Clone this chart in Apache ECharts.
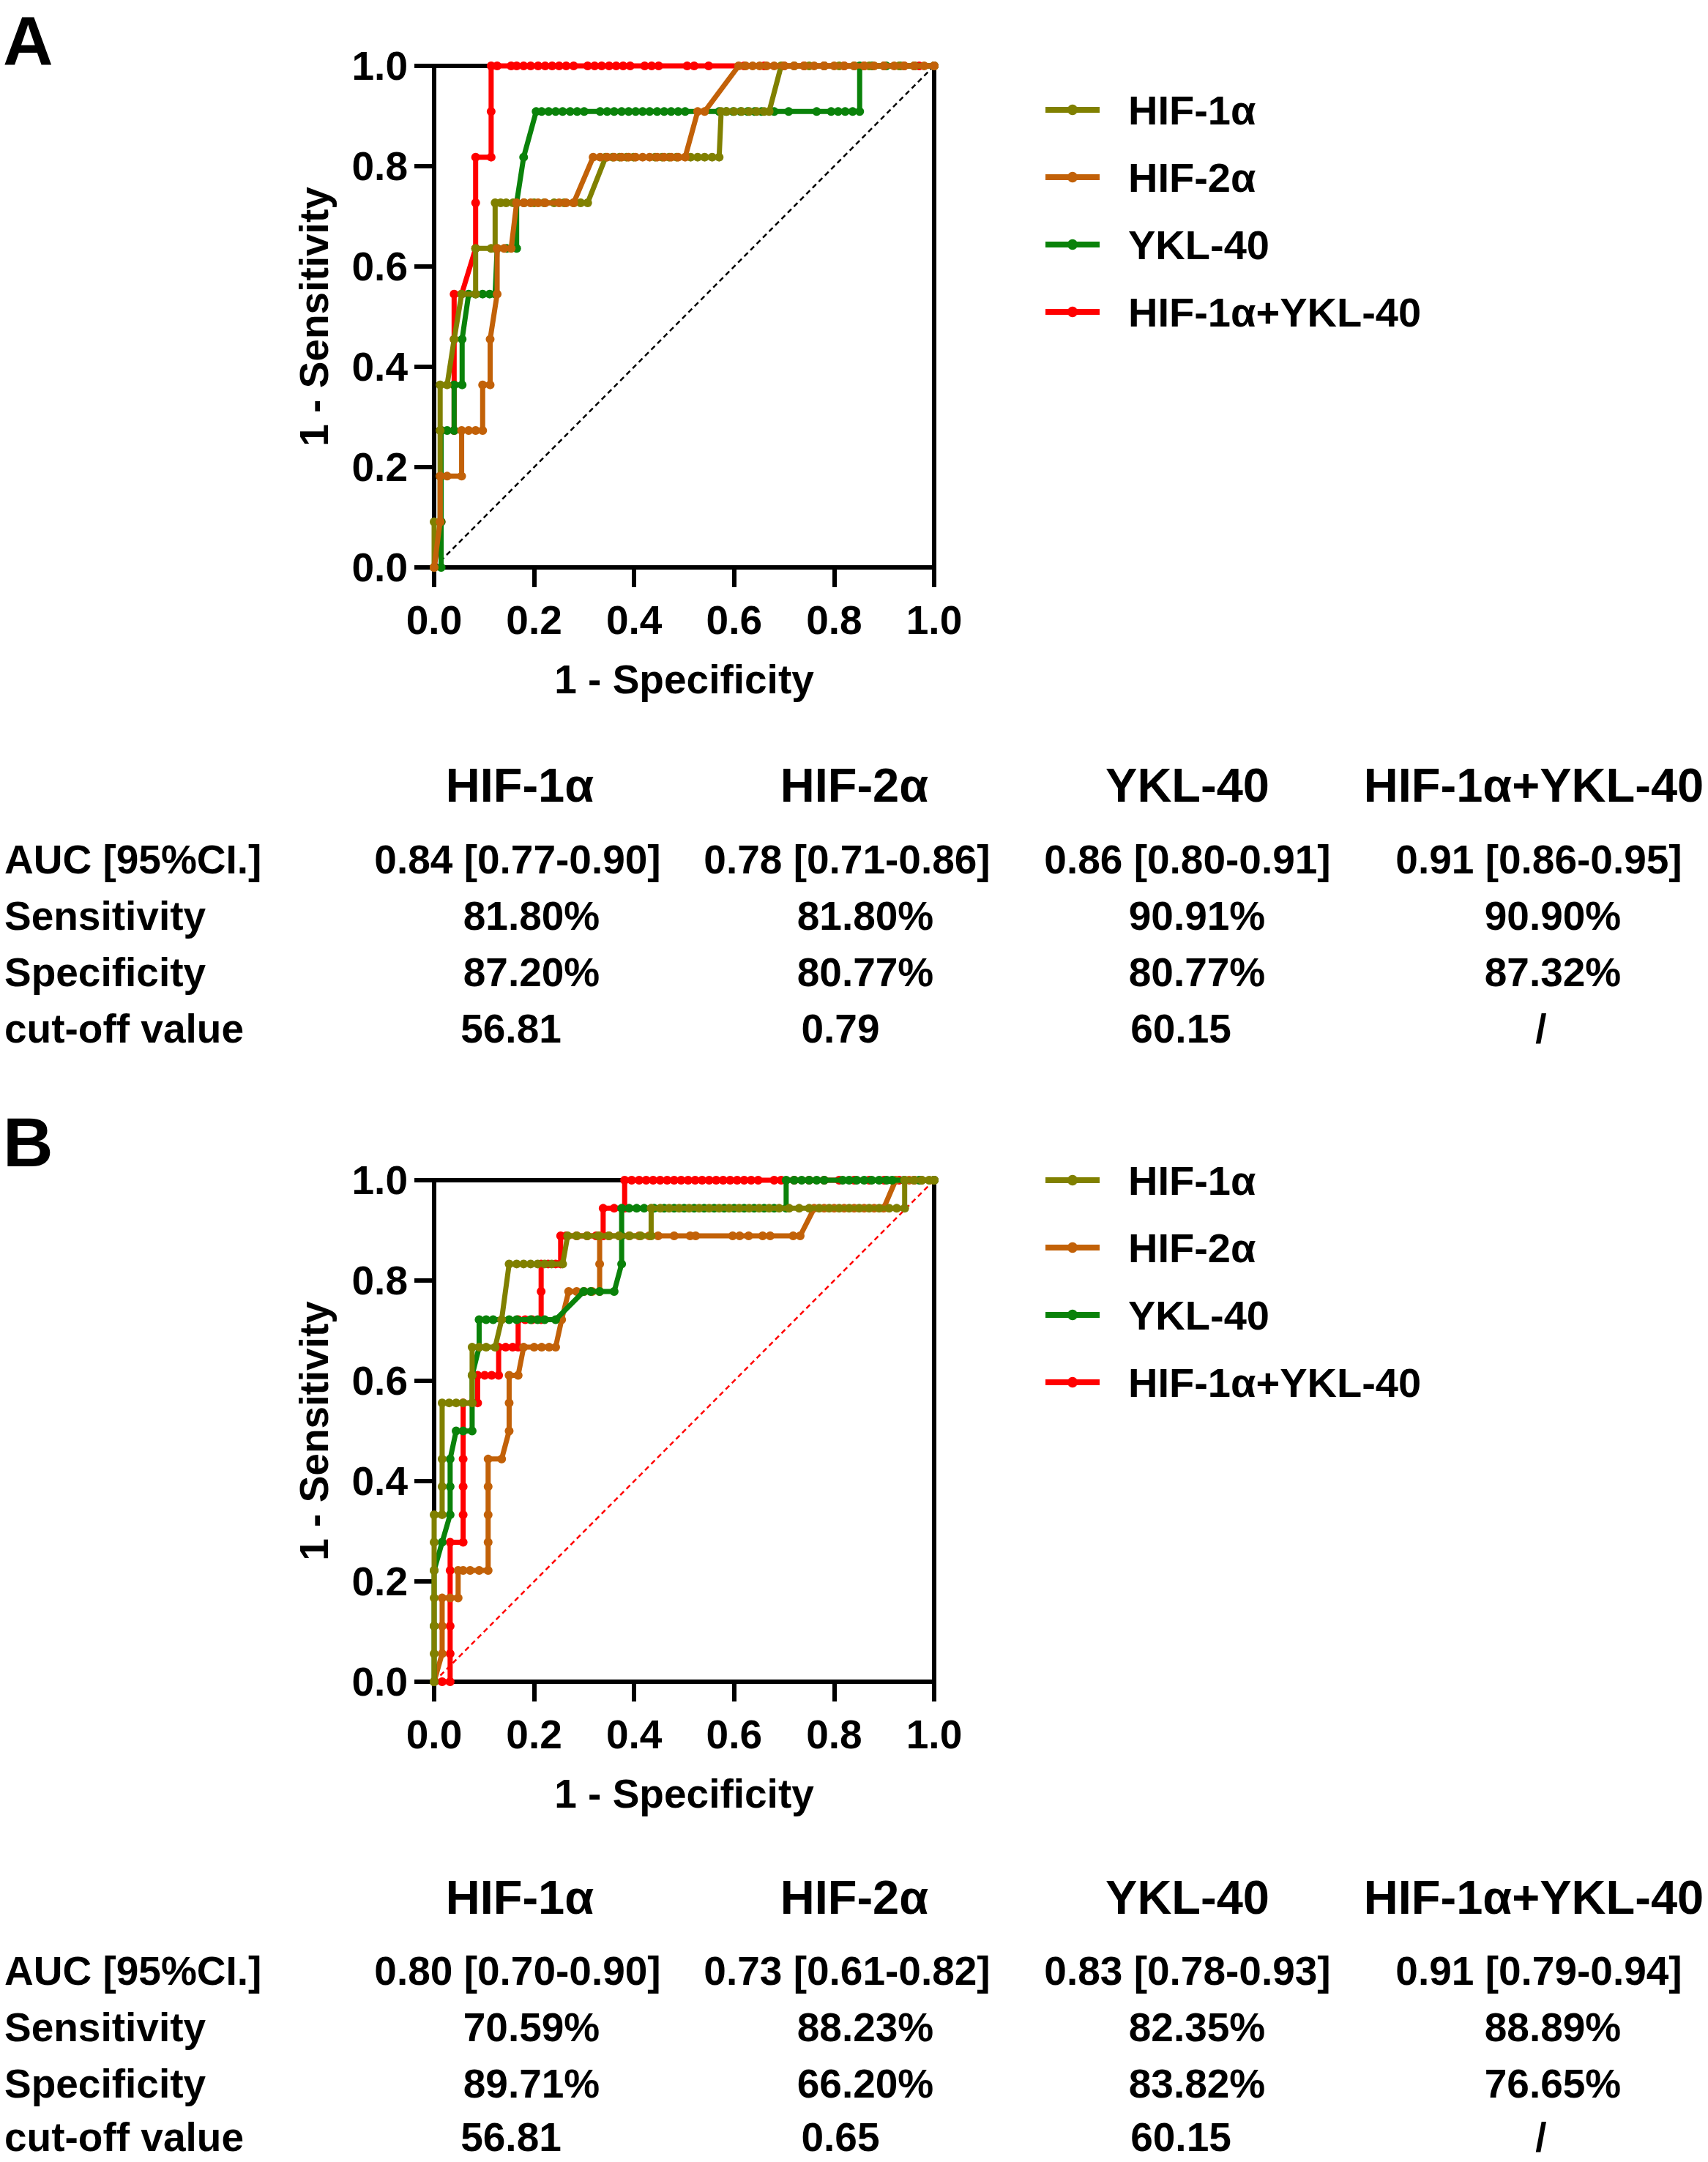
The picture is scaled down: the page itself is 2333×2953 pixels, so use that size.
<!DOCTYPE html>
<html><head><meta charset="utf-8">
<script src="https://cdn.jsdelivr.net/npm/echarts@6/dist/echarts.min.js"></script>
<style>html,body{margin:0;padding:0;background:#fff}#c{width:2333px;height:2953px}</style>
</head><body><div id="c"></div>
<script>
// ---------------- DATA ----------------
const seriesNames = ['HIF-1\u03b1', 'HIF-2\u03b1', 'YKL-40', 'HIF-1\u03b1+YKL-40'];
const xTicks = [0, 0.2, 0.4, 0.6, 0.8, 1.0];

// Panel A ROC curves [1-specificity, 1-sensitivity]
const aHif1 = [[0,0],[0,0.091],[0.012,0.091],[0.012,0.182],[0.012,0.273],[0.012,0.364],[0.026,0.364],[0.040,0.455],[0.055,0.545],[0.083,0.545],[0.083,0.636],[0.114,0.636],[0.122,0.636],[0.122,0.727],[0.133,0.727],[0.144,0.727],[0.158,0.727],[0.180,0.727],[0.200,0.727],[0.220,0.727],[0.240,0.727],[0.260,0.727],[0.279,0.727],[0.293,0.727],[0.307,0.727],[0.343,0.818],[0.357,0.818],[0.371,0.818],[0.385,0.818],[0.399,0.818],[0.442,0.818],[0.456,0.818],[0.470,0.818],[0.485,0.818],[0.513,0.818],[0.527,0.818],[0.541,0.818],[0.556,0.818],[0.570,0.818],[0.574,0.909],[0.585,0.909],[0.600,0.909],[0.615,0.909],[0.630,0.909],[0.645,0.909],[0.660,0.909],[0.670,0.909],[0.694,1],[0.720,1],[0.750,1],[0.780,1],[0.810,1],[0.840,1],[0.870,1],[0.900,1],[0.930,1],[0.960,1],[1,1]];
const aHif2 = [[0,0],[0.012,0.091],[0.012,0.182],[0.026,0.182],[0.055,0.182],[0.055,0.273],[0.069,0.273],[0.083,0.273],[0.097,0.273],[0.097,0.364],[0.112,0.364],[0.112,0.455],[0.126,0.545],[0.126,0.636],[0.140,0.636],[0.154,0.636],[0.165,0.727],[0.179,0.727],[0.193,0.727],[0.208,0.727],[0.222,0.727],[0.250,0.727],[0.264,0.727],[0.279,0.727],[0.318,0.818],[0.332,0.818],[0.346,0.818],[0.360,0.818],[0.375,0.818],[0.389,0.818],[0.403,0.818],[0.417,0.818],[0.431,0.818],[0.446,0.818],[0.460,0.818],[0.474,0.818],[0.488,0.818],[0.502,0.818],[0.527,0.909],[0.541,0.909],[0.609,1],[0.623,1],[0.637,1],[0.651,1],[0.665,1],[0.680,1],[0.700,1],[0.720,1],[0.740,1],[0.760,1],[0.780,1],[0.800,1],[0.820,1],[0.840,1],[0.860,1],[0.880,1],[0.900,1],[0.920,1],[0.940,1],[0.960,1],[0.980,1],[1,1]];
const aYkl = [[0,0],[0.014,0],[0.014,0.091],[0.014,0.182],[0.014,0.273],[0.026,0.273],[0.040,0.273],[0.040,0.364],[0.056,0.364],[0.056,0.455],[0.069,0.545],[0.083,0.545],[0.097,0.545],[0.111,0.545],[0.122,0.545],[0.126,0.636],[0.145,0.636],[0.165,0.636],[0.165,0.727],[0.179,0.818],[0.204,0.909],[0.215,0.909],[0.229,0.909],[0.243,0.909],[0.257,0.909],[0.272,0.909],[0.286,0.909],[0.300,0.909],[0.332,0.909],[0.346,0.909],[0.360,0.909],[0.375,0.909],[0.389,0.909],[0.403,0.909],[0.417,0.909],[0.431,0.909],[0.446,0.909],[0.460,0.909],[0.474,0.909],[0.488,0.909],[0.502,0.909],[0.570,0.909],[0.584,0.909],[0.598,0.909],[0.613,0.909],[0.627,0.909],[0.641,0.909],[0.655,0.909],[0.680,0.909],[0.709,0.909],[0.765,0.909],[0.794,0.909],[0.808,0.909],[0.822,0.909],[0.837,0.909],[0.851,0.909],[0.851,1],[0.876,1],[0.904,1],[0.932,1],[0.961,1],[1,1]];
const aCombo = [[0,0],[0.014,0.091],[0.014,0.182],[0.014,0.273],[0.040,0.273],[0.040,0.364],[0.040,0.455],[0.040,0.545],[0.055,0.545],[0.083,0.636],[0.083,0.727],[0.083,0.818],[0.114,0.818],[0.114,0.909],[0.114,1],[0.126,1],[0.154,1],[0.165,1],[0.179,1],[0.193,1],[0.208,1],[0.222,1],[0.236,1],[0.250,1],[0.264,1],[0.279,1],[0.307,1],[0.321,1],[0.335,1],[0.350,1],[0.364,1],[0.378,1],[0.392,1],[0.421,1],[0.435,1],[0.449,1],[0.506,1],[0.520,1],[0.549,1],[0.620,1],[0.660,1],[0.700,1],[0.740,1],[0.780,1],[0.820,1],[0.860,1],[0.900,1],[0.940,1],[0.970,1],[1,1]];
const aDiag = [[0,0],[1,1]];

// Panel B ROC curves
const bHif1 = [[0,0],[0,0.056],[0,0.111],[0,0.167],[0,0.222],[0,0.278],[0,0.333],[0.016,0.333],[0.016,0.389],[0.016,0.444],[0.016,0.556],[0.030,0.556],[0.044,0.556],[0.058,0.556],[0.076,0.556],[0.076,0.611],[0.076,0.667],[0.090,0.667],[0.104,0.667],[0.122,0.667],[0.135,0.722],[0.150,0.833],[0.165,0.833],[0.179,0.833],[0.193,0.833],[0.207,0.833],[0.221,0.833],[0.235,0.833],[0.257,0.833],[0.267,0.889],[0.285,0.889],[0.306,0.889],[0.328,0.889],[0.349,0.889],[0.370,0.889],[0.391,0.889],[0.413,0.889],[0.434,0.889],[0.434,0.944],[0.452,0.944],[0.470,0.944],[0.490,0.944],[0.510,0.944],[0.530,0.944],[0.550,0.944],[0.570,0.944],[0.590,0.944],[0.610,0.944],[0.630,0.944],[0.650,0.944],[0.670,0.944],[0.690,0.944],[0.710,0.944],[0.730,0.944],[0.750,0.944],[0.770,0.944],[0.790,0.944],[0.810,0.944],[0.830,0.944],[0.850,0.944],[0.870,0.944],[0.890,0.944],[0.910,0.944],[0.925,0.944],[0.941,0.944],[0.941,1],[0.960,1],[0.975,1],[0.990,1],[1,1]];
const bHif2 = [[0,0],[0.016,0.056],[0.016,0.111],[0.016,0.167],[0.032,0.167],[0.048,0.167],[0.048,0.222],[0.058,0.222],[0.072,0.222],[0.090,0.222],[0.108,0.222],[0.108,0.278],[0.108,0.333],[0.108,0.389],[0.108,0.444],[0.135,0.444],[0.150,0.500],[0.150,0.556],[0.150,0.611],[0.168,0.611],[0.179,0.667],[0.200,0.667],[0.215,0.667],[0.230,0.667],[0.243,0.667],[0.255,0.722],[0.269,0.778],[0.285,0.778],[0.300,0.778],[0.316,0.778],[0.331,0.778],[0.331,0.833],[0.331,0.889],[0.350,0.889],[0.370,0.889],[0.390,0.889],[0.410,0.889],[0.430,0.889],[0.448,0.889],[0.480,0.889],[0.512,0.889],[0.523,0.889],[0.597,0.889],[0.611,0.889],[0.629,0.889],[0.657,0.889],[0.672,0.889],[0.718,0.889],[0.732,0.889],[0.760,0.944],[0.780,0.944],[0.800,0.944],[0.820,0.944],[0.840,0.944],[0.860,0.944],[0.880,0.944],[0.899,0.944],[0.923,1],[0.950,1],[0.975,1],[1,1]];
const bYkl = [[0,0],[0,0.111],[0,0.222],[0.016,0.278],[0.032,0.333],[0.032,0.389],[0.032,0.444],[0.044,0.500],[0.058,0.500],[0.076,0.500],[0.076,0.556],[0.076,0.611],[0.090,0.667],[0.090,0.722],[0.104,0.722],[0.118,0.722],[0.150,0.722],[0.165,0.722],[0.193,0.722],[0.207,0.722],[0.221,0.722],[0.243,0.722],[0.299,0.778],[0.313,0.778],[0.331,0.778],[0.360,0.778],[0.375,0.833],[0.375,0.889],[0.375,0.944],[0.390,0.944],[0.405,0.944],[0.420,0.944],[0.440,0.944],[0.460,0.944],[0.480,0.944],[0.500,0.944],[0.520,0.944],[0.540,0.944],[0.560,0.944],[0.580,0.944],[0.600,0.944],[0.620,0.944],[0.640,0.944],[0.660,0.944],[0.680,0.944],[0.704,0.944],[0.704,1],[0.720,1],[0.735,1],[0.750,1],[0.765,1],[0.780,1],[0.817,1],[0.830,1],[0.845,1],[0.860,1],[0.875,1],[0.890,1],[0.905,1],[0.916,1],[0.940,1],[0.970,1],[1,1]];
const bCombo = [[0,0],[0.016,0],[0.032,0],[0.032,0.056],[0.032,0.111],[0.032,0.167],[0.032,0.222],[0.032,0.278],[0.058,0.278],[0.058,0.333],[0.058,0.389],[0.058,0.444],[0.058,0.500],[0.058,0.556],[0.087,0.556],[0.087,0.611],[0.101,0.611],[0.115,0.611],[0.129,0.611],[0.129,0.667],[0.143,0.667],[0.157,0.667],[0.168,0.667],[0.168,0.722],[0.182,0.722],[0.196,0.722],[0.214,0.722],[0.214,0.778],[0.214,0.833],[0.228,0.833],[0.243,0.833],[0.253,0.833],[0.253,0.889],[0.264,0.889],[0.285,0.889],[0.306,0.889],[0.324,0.889],[0.338,0.889],[0.338,0.944],[0.360,0.944],[0.381,0.944],[0.381,1],[0.395,1],[0.410,1],[0.424,1],[0.438,1],[0.452,1],[0.466,1],[0.480,1],[0.494,1],[0.508,1],[0.522,1],[0.536,1],[0.550,1],[0.564,1],[0.578,1],[0.592,1],[0.606,1],[0.620,1],[0.634,1],[0.648,1],[0.680,1],[0.694,1],[0.720,1],[0.750,1],[0.780,1],[0.810,1],[0.840,1],[0.870,1],[0.900,1],[0.930,1],[0.960,1],[1,1]];
const bDiag = [[0,0],[1,1]];

// Tables
const tableHeaders = ['HIF-1\u03b1', 'HIF-2\u03b1', 'YKL-40', 'HIF-1\u03b1+YKL-40'];
const rowLabels = ['AUC [95%CI.]', 'Sensitivity', 'Specificity', 'cut-off value'];
const tableA_hif1 = ['0.84 [0.77-0.90]', '81.80%', '87.20%', '56.81'];
const tableA_hif2 = ['0.78 [0.71-0.86]', '81.80%', '80.77%', '0.79'];
const tableA_ykl  = ['0.86 [0.80-0.91]', '90.91%', '80.77%', '60.15'];
const tableA_combo = ['0.91 [0.86-0.95]', '90.90%', '87.32%', '/'];
const tableB_hif1 = ['0.80 [0.70-0.90]', '70.59%', '89.71%', '56.81'];
const tableB_hif2 = ['0.73 [0.61-0.82]', '88.23%', '66.20%', '0.65'];
const tableB_ykl  = ['0.83 [0.78-0.93]', '82.35%', '83.82%', '60.15'];
const tableB_combo = ['0.91 [0.79-0.94]', '88.89%', '76.65%', '/'];

// ---------------- STYLE / LAYOUT ----------------
const FONT = 'Liberation Sans, Arial, Helvetica, sans-serif';
const colors = {'HIF-1\u03b1':'#808000','HIF-2\u03b1':'#C26108','YKL-40':'#0A820A','HIF-1\u03b1+YKL-40':'#FF0000'};
const panels = [
  {top: 90, label: 'A', labelTop: 8, legendTop: 115, tableY: 1072, rowOffsets: [102, 179, 256, 333], diagColor: '#000',
   curves: {'HIF-1\u03b1': aHif1, 'HIF-2\u03b1': aHif2, 'YKL-40': aYkl, 'HIF-1\u03b1+YKL-40': aCombo},
   order: ['HIF-1\u03b1+YKL-40','YKL-40','HIF-1\u03b1','HIF-2\u03b1'], diag: aDiag,
   table: [tableA_hif1, tableA_hif2, tableA_ykl, tableA_combo]},
  {top: 1612, label: 'B', labelTop: 1512, legendTop: 1577, tableY: 2591, rowOffsets: [101, 178, 255, 328], diagColor: '#FF0000',
   curves: {'HIF-1\u03b1': bHif1, 'HIF-2\u03b1': bHif2, 'YKL-40': bYkl, 'HIF-1\u03b1+YKL-40': bCombo},
   order: ['HIF-1\u03b1+YKL-40','HIF-2\u03b1','YKL-40','HIF-1\u03b1'], diag: bDiag,
   table: [tableB_hif1, tableB_hif2, tableB_ykl, tableB_combo]}
];
const GRID_LEFT = 593, GRID_W = 683, GRID_H = 685;
const headerX = [710, 1167, 1622, 2095];
const cellX = [[707,1157,1622,2102],[726,1182,1635,2121],[726,1182,1635,2121],[698,1148,1613,2105]];

const grids = [], xAxes = [], yAxes = [], series = [], legends = [], graphics = [];
const axisCommon = {
  type: 'value', min: 0, max: 1, interval: 0.2,
  axisLine: {show: true, lineStyle: {color: '#000', width: 6}},
  axisTick: {show: true, length: 27, lineStyle: {color: '#000', width: 6}},
  splitLine: {show: false},
  nameTextStyle: {fontSize: 55, fontWeight: 'bold', fontFamily: FONT, color: '#000'},
  axisLabel: {fontSize: 55, fontWeight: 'bold', fontFamily: FONT, color: '#000', formatter: v => v.toFixed(1)}
};

panels.forEach((p, i) => {
  grids.push({left: GRID_LEFT, top: p.top, width: GRID_W, height: GRID_H, show: true,
    borderColor: '#000', borderWidth: 6, backgroundColor: 'transparent'});
  xAxes.push(Object.assign({}, axisCommon, {gridIndex: i, name: '1 - Specificity', nameLocation: 'middle', nameGap: 125,
    axisLabel: Object.assign({}, axisCommon.axisLabel, {margin: 44})}));
  yAxes.push(Object.assign({}, axisCommon, {gridIndex: i, name: '1 - Sensitivity', nameLocation: 'middle', nameGap: 137, nameRotate: 90,
    axisLabel: Object.assign({}, axisCommon.axisLabel, {margin: 36})}));
  series.push({type: 'line', name: 'diag' + i, data: p.diag, xAxisIndex: i, yAxisIndex: i, symbol: 'none', silent: true,
    lineStyle: {color: p.diagColor, width: 2.5, type: [7, 5]}, animation: false, clip: false, z: 1});
  p.order.forEach((nm, k) => {
    series.push({type: 'line', name: nm, data: p.curves[nm], xAxisIndex: i, yAxisIndex: i,
      symbol: 'circle', symbolSize: 12, showSymbol: true, showAllSymbol: true, clip: false,
      color: colors[nm], lineStyle: {color: colors[nm], width: 7}, itemStyle: {color: colors[nm]},
      emphasis: {disabled: true}, animation: false, z: 2 + k});
  });
  legends.push({orient: 'vertical', left: 1419, top: p.legendTop, itemWidth: 74, itemHeight: 18, itemGap: 32,
    data: seriesNames, selectedMode: false,
    lineStyle: {width: 8},
    textStyle: {fontSize: 56, fontWeight: 'bold', fontFamily: FONT, color: '#000', lineHeight: 60, padding: [0, 0, 0, 34]}});
  // panel letter
  graphics.push({type: 'text', x: 4, y: p.labelTop, style: {text: p.label, fontSize: 95, lineHeight: 96, fontWeight: 'bold', fontFamily: FONT, fill: '#000', align: 'left', verticalAlign: 'top'}});
  // table headers
  tableHeaders.forEach((h, c) => graphics.push({type: 'text', x: headerX[c], y: p.tableY,
    style: {text: h, fontSize: 65, lineHeight: 70, fontWeight: 'bold', fontFamily: FONT, fill: '#000', align: 'center', verticalAlign: 'middle'}}));
  rowLabels.forEach((r, ri) => {
    graphics.push({type: 'text', x: 6, y: p.tableY + p.rowOffsets[ri],
      style: {text: r, fontSize: 55, lineHeight: 58, fontWeight: 'bold', fontFamily: FONT, fill: '#000', align: 'left', verticalAlign: 'middle'}});
    p.table.forEach((col, c) => graphics.push({type: 'text', x: cellX[ri][c], y: p.tableY + p.rowOffsets[ri],
      style: {text: col[ri], fontSize: 55, lineHeight: 58, fontWeight: 'bold', fontFamily: FONT, fill: '#000', align: 'center', verticalAlign: 'middle'}}));
  });
});

const chart = echarts.init(document.getElementById('c'), null, {renderer: 'svg', width: 2333, height: 2953});
chart.setOption({
  backgroundColor: '#fff', animation: false,
  grid: grids, xAxis: xAxes, yAxis: yAxes, series: series, legend: legends, graphic: graphics
});
</script></body></html>
